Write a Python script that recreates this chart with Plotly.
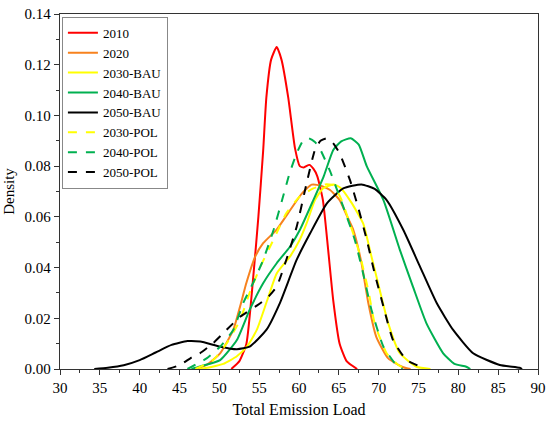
import plotly.graph_objects as go

# ---- data (x = Total Emission Load, y = Density) ----
x_2010 = [51.5, 52.5, 53.4, 54.25, 54.9, 55.5, 55.9, 56.5, 57.2, 57.8, 58.65, 59.5, 60.1, 60.6, 61.3, 61.8, 62.3, 63.0, 63.66, 64.3, 65.1, 66.0, 67.3]
y_2010 = [0.0, 0.003, 0.010, 0.036, 0.060, 0.086, 0.107, 0.122, 0.127, 0.122, 0.107, 0.087, 0.080, 0.0795, 0.0805, 0.079, 0.076, 0.0666, 0.047, 0.027, 0.010, 0.003, 0.0]

x_2020 = [47.0, 48.4, 50.1, 51.75, 52.6, 53.4, 54.5, 55.5, 57.2, 58.9, 60.3, 61.6, 62.8, 63.9, 65.1, 66.0, 66.8, 67.85, 68.7, 69.7, 71.2, 73.1, 74.0]
y_2020 = [0.0, 0.0016, 0.0062, 0.0154, 0.0246, 0.034, 0.0443, 0.0496, 0.055, 0.0627, 0.069, 0.0727, 0.0722, 0.0706, 0.0666, 0.0605, 0.055, 0.0417, 0.026, 0.0127, 0.0042, 0.0007, 0.0]

x_2030_bau = [47.5, 49.0, 50.5, 52.2, 53.5, 54.7, 56.0, 57.2, 58.86, 60.1, 60.95, 62.0, 63.0, 64.3, 65.2, 66.5, 68.05, 69.1, 70.15, 71.2, 72.66, 74.75, 76.5]
y_2030_bau = [0.0, 0.0008, 0.002, 0.005, 0.009, 0.0154, 0.027, 0.0377, 0.0443, 0.051, 0.0574, 0.0666, 0.0712, 0.0728, 0.0715, 0.066, 0.0574, 0.0443, 0.031, 0.018, 0.0062, 0.0009, 0.0]

x_2040_bau = [46.5, 47.6, 50.1, 52.2, 53.8, 55.5, 57.2, 58.86, 60.1, 61.8, 63.1, 64.3, 65.3, 66.5, 67.5, 68.5, 70.6, 72.66, 74.3, 76.0, 78.1, 79.5, 81.0, 81.5]
y_2040_bau = [0.0, 0.001, 0.0035, 0.0114, 0.0233, 0.0338, 0.0417, 0.0482, 0.0548, 0.0666, 0.076, 0.0864, 0.0898, 0.091, 0.0885, 0.080, 0.0666, 0.047, 0.0325, 0.018, 0.0062, 0.002, 0.0009, 0.0]

x_2050_bau = [34.3, 36.0, 38.0, 40.0, 42.0, 44.0, 46.0, 47.6, 50.1, 52.2, 53.8, 55.9, 57.6, 59.7, 61.4, 63.5, 65.55, 67.85, 69.5, 71.0, 73.1, 75.2, 77.3, 79.35, 81.86, 85.2, 87.7, 88.0]
y_2050_bau = [0.0, 0.0005, 0.0015, 0.0035, 0.0065, 0.0095, 0.011, 0.0108, 0.0088, 0.0078, 0.0088, 0.0154, 0.026, 0.043, 0.0535, 0.0653, 0.0712, 0.0728, 0.071, 0.0666, 0.0548, 0.0403, 0.0259, 0.0154, 0.0062, 0.0016, 0.0005, 0.0]

x_2030_pol = [47.0, 49.2, 50.9, 52.6, 53.8, 55.1, 56.8, 58.4, 60.1, 61.8, 63.3, 64.3, 65.3, 66.8, 67.6, 68.7, 69.5, 71.0, 72.5, 73.5]
y_2030_pol = [0.0, 0.0035, 0.010, 0.0193, 0.030, 0.040, 0.051, 0.0614, 0.068, 0.0712, 0.0728, 0.0725, 0.067, 0.0535, 0.0456, 0.031, 0.018, 0.0062, 0.0015, 0.0]

x_2040_pol = [46.0, 48.4, 50.1, 51.75, 53.0, 54.25, 55.5, 56.8, 58.0, 58.8, 59.7, 60.5, 61.2, 62.0, 62.6, 63.9, 65.55, 67.0, 68.05, 69.1, 70.6, 72.2, 73.0]
y_2040_pol = [0.0, 0.0042, 0.0088, 0.0154, 0.026, 0.034, 0.043, 0.0548, 0.068, 0.077, 0.085, 0.090, 0.091, 0.0895, 0.087, 0.078, 0.064, 0.051, 0.0377, 0.0233, 0.0088, 0.0016, 0.0]

x_2050_pol = [43.5, 45.0, 46.5, 47.56, 49.2, 50.9, 52.6, 54.7, 56.0, 57.2, 58.4, 59.7, 60.95, 62.0, 62.7, 63.5, 64.3, 65.1, 66.4, 67.4, 68.5, 69.5, 70.6, 71.8, 73.5, 75.2, 75.5]
y_2050_pol = [0.0, 0.0015, 0.0045, 0.0062, 0.0101, 0.0154, 0.0206, 0.025, 0.028, 0.0325, 0.043, 0.056, 0.0732, 0.0864, 0.090, 0.091, 0.089, 0.085, 0.0745, 0.064, 0.051, 0.0377, 0.0246, 0.0114, 0.0035, 0.0009, 0.0]

series = [
    ("2010", x_2010, y_2010, "#ff0000", "solid"),
    ("2020", x_2020, y_2020, "#f7821e", "solid"),
    ("2030-BAU", x_2030_bau, y_2030_bau, "#ffff00", "solid"),
    ("2040-BAU", x_2040_bau, y_2040_bau, "#00b050", "solid"),
    ("2050-BAU", x_2050_bau, y_2050_bau, "#000000", "solid"),
    ("2030-POL", x_2030_pol, y_2030_pol, "#ffff00", "dash"),
    ("2040-POL", x_2040_pol, y_2040_pol, "#00b050", "dash"),
    ("2050-POL", x_2050_pol, y_2050_pol, "#000000", "dash"),
]

fig = go.Figure()
for name, xs, ys, color, dash in series:
    fig.add_trace(go.Scatter(
        x=xs, y=ys, mode="lines", name=name,
        line=dict(color=color, width=2, dash=dash, shape="spline", smoothing=0.5),
    ))

font_family = "Liberation Serif, Times New Roman, serif"
axis_common = dict(
    showgrid=False, zeroline=False, showline=True, linecolor="#333333", linewidth=1.3,
    mirror=True, ticks="outside", ticklen=5, tickwidth=1, tickcolor="#333333",
    tickfont=dict(family=font_family, size=15, color="#000000"),
    automargin=False, ticklabeloverflow="allow",
)
fig.update_xaxes(
    range=[30, 90], dtick=5, tick0=30,
    minor=dict(dtick=2.5, ticks="outside", ticklen=3, tickcolor="#333333"),
    title=dict(text="Total Emission Load", font=dict(family=font_family, size=16, color="#000000"), standoff=8),
    **axis_common,
)
fig.update_yaxes(
    range=[0, 0.14], dtick=0.02, tick0=0, tickformat=".2f",
    minor=dict(dtick=0.01, ticks="outside", ticklen=3, tickcolor="#333333"),
    title=dict(text="Density", font=dict(family=font_family, size=15, color="#000000"), standoff=6),
    **axis_common,
)
fig.update_layout(
    width=550, height=422,
    margin=dict(l=60, r=12, t=14, b=53),
    paper_bgcolor="white", plot_bgcolor="white",
    showlegend=True,
    legend=dict(
        x=0.004, y=0.992, xanchor="left", yanchor="top",
        bgcolor="white", bordercolor="#888888", borderwidth=1,
        font=dict(family=font_family, size=13, color="#000000"),
        tracegroupgap=0, itemwidth=30,
    ),
)
# remove the default page margin so the 550x422 figure fills the window exactly
fig.write_html(
    "out.html",
    config={"displayModeBar": False},
    post_script="document.body.style.margin='0px';document.body.style.overflow='hidden';",
)
